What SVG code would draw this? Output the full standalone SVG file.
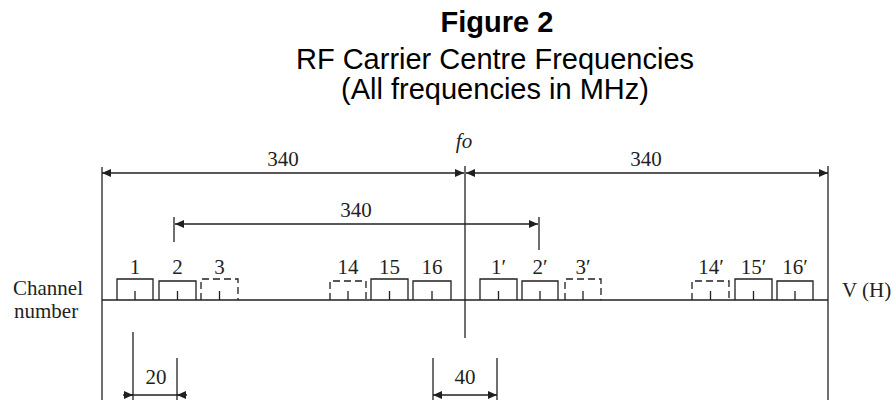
<svg xmlns="http://www.w3.org/2000/svg" width="895" height="400" viewBox="0 0 895 400">
<style>
.ln{stroke:#231f20;stroke-width:1.3;fill:none}
.bx{stroke:#231f20;stroke-width:1.3;fill:none}
.dsh{stroke-dasharray:7 4}
.t{font-family:"Liberation Serif","Times New Roman",serif;font-size:21px;fill:#231f20}
.tm{text-anchor:middle}
.title{font-family:"Liberation Sans",Arial,sans-serif;font-size:29px;fill:#000;text-anchor:middle}
</style>
<defs>
<marker id="ah" viewBox="0 0 9 8" refX="9" refY="4" markerWidth="9" markerHeight="8" orient="auto-start-reverse" markerUnits="userSpaceOnUse"><path d="M0,0 L9,4 L0,8 z" fill="#231f20"/></marker>
</defs>
<rect width="895" height="400" fill="#fff"/>
<g id="title">
<text class="title" x="497" y="32" font-weight="bold">Figure 2</text>
<text class="title" x="495" y="69">RF Carrier Centre Frequencies</text>
<text class="title" x="495" y="99">(All frequencies in MHz)</text>
</g>
<g id="axis">
<line class="ln" x1="102" y1="300" x2="828" y2="300"/>
<line class="ln" x1="102" y1="167" x2="102" y2="400"/>
<line class="ln" x1="465" y1="166" x2="465" y2="338"/>
<line class="ln" x1="828" y1="166" x2="828" y2="400"/>
<text class="t" x="13" y="295" font-size="21">Channel</text>
<text class="t" x="14" y="318" font-size="21">number</text>
<text class="t" x="842" y="297" font-size="22">V (H)</text>
<text class="t tm" x="464" y="148" font-style="italic" font-size="23">fo</text>
</g>
<g id="ch1"><path class="bx" d="M117,300 V279 H153 V300 M135,291 V300"/><text class="t tm" x="135" y="274">1</text></g>
<g id="ch2"><path class="bx" d="M159,300 V281 H196 V300 M177.5,291 V300"/><text class="t tm" x="177.5" y="274">2</text></g>
<g id="ch3"><path class="bx dsh" d="M201,300 V279 H238 V300"/><path class="bx" d="M219.5,291 V300"/><text class="t tm" x="219.5" y="274">3</text></g>
<g id="ch14"><path class="bx dsh" d="M330,300 V281 H366 V300"/><path class="bx" d="M348,291 V300"/><text class="t tm" x="348" y="274">14</text></g>
<g id="ch15"><path class="bx" d="M371,300 V279 H408 V300 M389.5,291 V300"/><text class="t tm" x="389.5" y="274">15</text></g>
<g id="ch16"><path class="bx" d="M413,300 V281 H451 V300 M432,291 V300"/><text class="t tm" x="432" y="274">16</text></g>
<g id="ch1p"><path class="bx" d="M480,300 V279 H517 V300 M498.5,291 V300"/><text class="t tm" x="498.5" y="274">1′</text></g>
<g id="ch2p"><path class="bx" d="M522,300 V281 H558 V300 M540,291 V300"/><text class="t tm" x="540" y="274">2′</text></g>
<g id="ch3p"><path class="bx dsh" d="M565,300 V279 H601 V300"/><path class="bx" d="M583,291 V300"/><text class="t tm" x="583" y="274">3′</text></g>
<g id="ch14p"><path class="bx dsh" d="M692,300 V281 H729 V300"/><path class="bx" d="M710.5,291 V300"/><text class="t tm" x="711" y="274">14′</text></g>
<g id="ch15p"><path class="bx" d="M735,300 V279 H772 V300 M753.5,291 V300"/><text class="t tm" x="753.5" y="274">15′</text></g>
<g id="ch16p"><path class="bx" d="M777,300 V281 H813 V300 M795,291 V300"/><text class="t tm" x="795" y="274">16′</text></g>
<g id="connectors">
<line class="ln" x1="102" y1="173" x2="464" y2="173" marker-start="url(#ah)" marker-end="url(#ah)"/>
<line class="ln" x1="466" y1="173" x2="828" y2="173" marker-start="url(#ah)" marker-end="url(#ah)"/>
<text class="t tm" x="283" y="166">340</text>
<text class="t tm" x="646" y="166">340</text>
<line class="ln" x1="174" y1="217" x2="174" y2="242"/>
<line class="ln" x1="539" y1="217" x2="539" y2="250"/>
<line class="ln" x1="175" y1="224" x2="538" y2="224" marker-start="url(#ah)" marker-end="url(#ah)"/>
<text class="t tm" x="356" y="217">340</text>
<line class="ln" x1="133" y1="332" x2="133" y2="400"/>
<line class="ln" x1="177" y1="358" x2="177" y2="400"/>
<line class="ln" x1="123" y1="395" x2="187" y2="395"/>
<line class="ln" x1="124" y1="395" x2="133" y2="395" marker-end="url(#ah)"/>
<line class="ln" x1="186" y1="395" x2="177" y2="395" marker-end="url(#ah)"/>
<text class="t tm" x="156" y="384">20</text>
<line class="ln" x1="433" y1="358" x2="433" y2="400"/>
<line class="ln" x1="497" y1="358" x2="497" y2="400"/>
<line class="ln" x1="433" y1="395" x2="497" y2="395" marker-start="url(#ah)" marker-end="url(#ah)"/>
<text class="t tm" x="465" y="384">40</text>
</g>
</svg>
